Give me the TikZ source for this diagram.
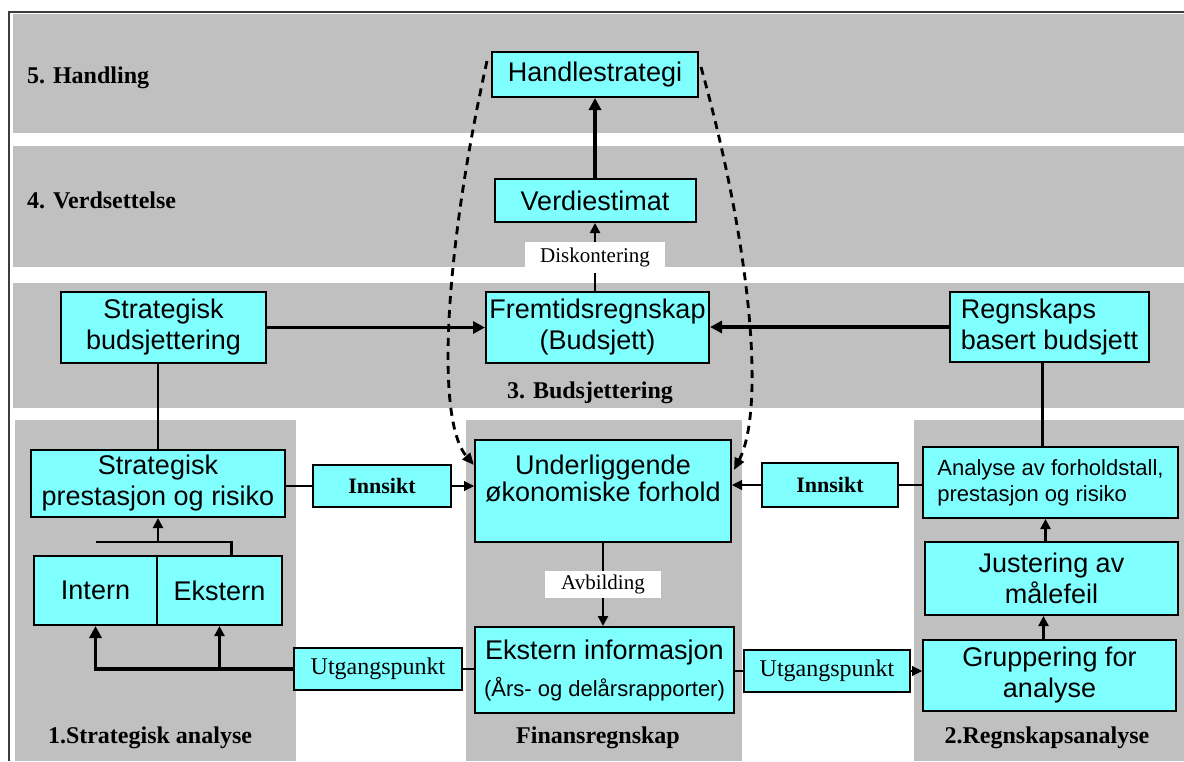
\documentclass[tikz,border=0pt]{standalone}
\usepackage{fontspec}
\setmainfont{Liberation Serif}
\setsansfont{Liberation Sans}
\usetikzlibrary{arrows.meta}
\usetikzlibrary{positioning}
\definecolor{bandgray}{RGB}{192,192,192}
\definecolor{boxcyan}{RGB}{128,255,255}
\definecolor{framegray}{RGB}{60,60,60}

\begin{document}
\begin{tikzpicture}[x=0.5pt,y=-0.5pt]
  \tikzset{
    boxtext/.style={align=center,font=\sffamily\fontsize{13.5}{15.5}\selectfont},
    box/.style={boxtext,draw=black,fill=boxcyan,line width=0.35mm,inner sep=0pt},
    tag/.style={draw=black,fill=boxcyan,line width=0.3mm,inner sep=0pt,font=\fontsize{12}{14}\selectfont},
    lbl/.style={fill=white,inner sep=0pt,font=\fontsize{10.5}{12}\selectfont},
    band/.style={font=\bfseries\fontsize{12}{14}\selectfont},
    heavy arrow/.style={line width=0.7mm,-{Triangle[length=6pt,width=6pt]}},
    big arrow/.style={line width=0.55mm,-{Triangle[length=6pt,width=6pt]}},
    mid arrow/.style={line width=0.4mm,-{Triangle[length=5pt,width=5pt]}},
    thin arrow/.style={line width=0.2mm,-{Triangle[length=5pt,width=5pt]}},
    dash arrow/.style={line width=0.5mm,dash pattern=on 4pt off 3pt,-{Triangle[length=6pt,width=5pt]}},
  }
  \useasboundingbox (0,0) rectangle (1184,761);
  %BANDS
  \fill[bandgray] (13,14) rectangle (1184,133);
  \fill[bandgray] (13,146) rectangle (1184,267);
  \fill[bandgray] (13,283) rectangle (1184,408);
  %COLUMNS
  \fill[bandgray] (15,420) rectangle (296,761);
  \fill[bandgray] (466,420) rectangle (742,761);
  \fill[bandgray] (914,420) rectangle (1184,761);
  %FRAME
  \draw[framegray,line width=1pt] (9,761) -- (9,12) -- (1184,12);

  %BAND LABELS
  \node[band,anchor=west] (l5) at (20,78) {5. Handling};
  \node[band,anchor=west] (l4) at (20,200) {4. Verdsettelse};
  \node[band] (l3) at (590,393) {3. Budsjettering};
  \node[band] (l1) at (150,738) {1.Strategisk analyse};
  \node[band] (lf) at (598,738) {Finansregnskap};
  \node[band] (l2) at (1047,738) {2.Regnskapsanalyse};

  %BOXES MIDDLE
  \node[box,minimum width=103pt,minimum height=22.5pt] (hand) at (595,74.5) {Handlestrategi};
  \node[box,minimum width=100.5pt,minimum height=21.5pt] (verdi) at (595,200.5) {Verdiestimat};
  \node[box,minimum width=111.5pt,minimum height=35.5pt] (frem) at (597.5,327.5) {Fremtidsregnskap\\(Budsjett)};
  \node[box,minimum width=128pt,minimum height=51pt] (under) at (603,491) {};
  \node[boxtext,font=\sffamily\fontsize{13.5}{13.5}\selectfont] (underT) at (603,478.5) {Underliggende\\økonomiske forhold};
  \node[box,minimum width=129.5pt,minimum height=43pt] (ekst) at (604.5,670) {Ekstern informasjon\\[3pt]{\fontsize{11}{13}\selectfont(Års- og delårsrapporter)}};

  %BOXES LEFT
  \node[box,minimum width=102.5pt,minimum height=35.5pt] (sbud) at (163.5,327.5) {Strategisk\\budsjettering};
  \node[box,minimum width=127pt,minimum height=33.5pt] (sprest) at (158,483.5) {Strategisk\\prestasjon og risiko};
  \node[box,minimum width=61.5pt,minimum height=34.5pt] (intern) at (95.5,590.5) {Intern};
  \node[box,minimum width=62.5pt,minimum height=34.5pt] (ekstern) at (219.5,590.5) {Ekstern};
  \node[tag,font=\bfseries\fontsize{11}{13}\selectfont,minimum width=69pt,minimum height=21pt] (innL) at (382,486) {Innsikt};
  \node[tag,minimum width=84pt,minimum height=21pt] (utgL) at (378,669) {Utgangspunkt};

  %BOXES RIGHT
  \node[box,align=left,minimum width=99.5pt,minimum height=35pt] (rbud) at (1049.5,327) {Regnskaps\\basert budsjett};
  \node[box,align=left,font=\sffamily\fontsize{11}{13}\selectfont,minimum width=127.5pt,minimum height=35.5pt] (anal) at (1050.5,482.5) {Analyse av forholdstall,\\prestasjon og risiko};
  \node[box,minimum width=126.5pt,minimum height=36.5pt] (just) at (1051.5,578.5) {Justering av\\målefeil};
  \node[box,minimum width=126.5pt,minimum height=35.5pt] (grup) at (1049.5,675.5) {Gruppering for\\analyse};
  \node[tag,font=\bfseries\fontsize{11}{13}\selectfont,minimum width=68pt,minimum height=22pt] (innR) at (830,485) {Innsikt};
  \node[tag,minimum width=83pt,minimum height=21pt] (utgR) at (827,671) {Utgangspunkt};

  %MIDDLE ARROWS
  \draw[big arrow] (verdi.north) -- (hand.south);
  \draw[mid arrow] (frem.north -| verdi) -- node[lbl,minimum width=70pt,minimum height=15.5pt] (disk) {Diskontering} (verdi.south);
  \draw[mid arrow] (under.south) -- node[lbl,minimum width=58pt,minimum height=13.5pt] (avb) {Avbilding} (under.south |- ekst.north);
  \draw[big arrow] (sbud.east) -- (frem.west);
  \draw[big arrow] (rbud.west) -- (rbud.west -| frem.east);

  %LEFT SIDE
  \draw[line width=0.5mm] (sprest.north) -- (sprest.north |- sbud.south);
  \draw[line width=0.2mm] (innL.west -| sprest.east) -- (innL.west);
  \draw[thin arrow] (innL.east) -- (innL.east -| under.west);
  \draw[line width=0.2mm] (utgL.east) -- (utgL.east -| ekst.west);
  \draw[heavy arrow] (utgL.west) -| (intern.south);
  \draw[mid arrow] (ekstern.south |- utgL.west) -- (ekstern.south);
  \coordinate (join) at ([yshift=6.5pt]intern.north east);
  \coordinate (hook) at ([xshift=6pt]ekstern.north);
  \draw[line width=0.4mm] (join -| intern.north) -- (join -| hook) -- (hook);
  \draw[mid arrow] (join) -- (join |- sprest.south);

  %RIGHT SIDE
  \draw[line width=0.5mm] ([xshift=-4pt]anal.north) -- ([xshift=-4pt]anal.north |- rbud.south);
  \draw[line width=0.4mm] (innR.east -| anal.west) -- (innR.east);
  \draw[thin arrow] (innR.west) -- (innR.west -| under.east);
  \draw[mid arrow] ([xshift=-3pt]grup.north) -- ([xshift=-3pt]grup.north |- just.south);
  \draw[mid arrow] ([xshift=-3pt]just.north) -- ([xshift=-3pt]just.north |- anal.south);
  \draw[line width=0.2mm] (utgR.west -| ekst.east) -- (utgR.west);
  \draw[thin arrow] (utgR.east) -- (utgR.east -| grup.west);

  %DASHED FEEDBACK
  \draw[dash arrow] ([shift={(-2pt,-5pt)}]hand.north west) .. controls (445,250) and (435,420) .. ([yshift=13pt]under.west);
  \draw[dash arrow] ([shift={(1pt,-8pt)}]hand.north east) .. controls (752,250) and (765,410) .. ([shift={(1pt,10.5pt)}]under.east);
\end{tikzpicture}
\end{document}
